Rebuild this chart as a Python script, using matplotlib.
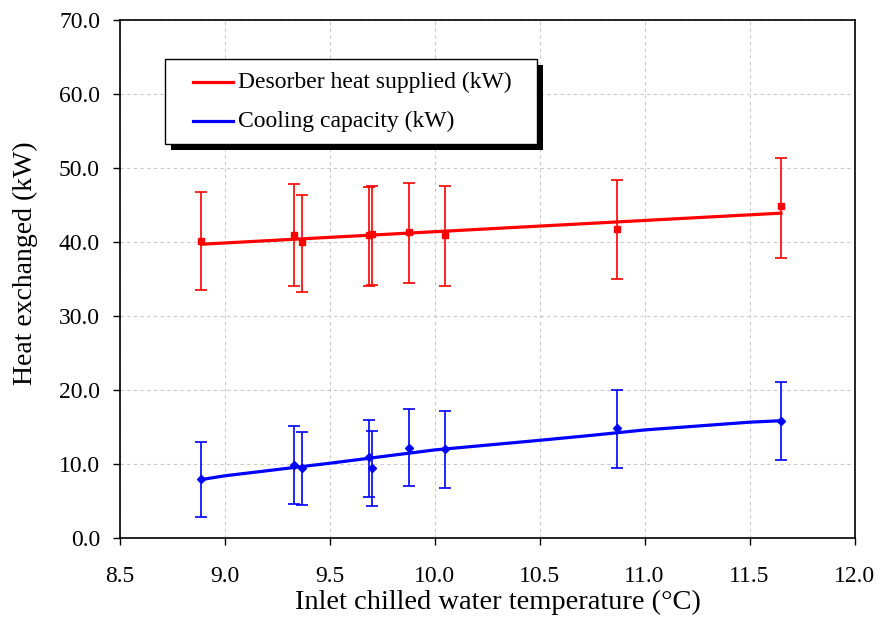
import matplotlib
matplotlib.use("Agg")
import matplotlib.pyplot as plt
from matplotlib.patches import Rectangle
from matplotlib.lines import Line2D

plt.rcParams['font.family'] = ['Liberation Serif', 'DejaVu Serif']

# ---- data ----
temp = [8.89, 9.33, 9.37, 9.69, 9.70, 9.88, 10.05, 10.87, 11.65]

des_heat = [40.1, 41.0, 40.0, 41.0, 41.1, 41.4, 41.0, 41.8, 44.8]
des_hi = [46.7, 47.8, 46.4, 47.4, 47.6, 48.0, 47.6, 48.4, 51.3]
des_lo = [33.5, 34.1, 33.3, 34.1, 34.2, 34.5, 34.1, 35.0, 37.9]

cool_cap = [8.0, 9.8, 9.5, 10.9, 9.5, 12.2, 12.0, 14.8, 15.8]
cool_hi = [13.0, 15.1, 14.3, 15.9, 14.5, 17.5, 17.1, 20.0, 21.1]
cool_lo = [2.9, 4.6, 4.4, 5.6, 4.3, 7.0, 6.7, 9.5, 10.5]

# trend lines as drawn
des_trend_x = [8.89, 11.65]
des_trend_y = [39.7, 43.9]
cool_trend_x = [8.89, 9.0, 9.5, 10.0, 10.5, 10.74, 11.0, 11.5, 11.65]
cool_trend_y = [7.9, 8.4, 10.1, 11.9, 13.2, 13.85, 14.6, 15.65, 15.85]

labels = ['Desorber heat supplied (kW)', 'Cooling capacity (kW)']
colors = ['#ff0000', '#0000ff']

xticks = [8.5, 9.0, 9.5, 10.0, 10.5, 11.0, 11.5, 12.0]
yticks = [0, 10, 20, 30, 40, 50, 60, 70]

W, H = 880, 619
fig = plt.figure(figsize=(8.8, 6.19), dpi=100)
ax = fig.add_axes([119.5 / W, 1 - 538 / H, (854.5 - 119.5) / W, (538 - 20) / H])

# error bars
ax.errorbar(temp, des_heat,
            yerr=[[m - l for m, l in zip(des_heat, des_lo)], [h - m for m, h in zip(des_heat, des_hi)]],
            fmt='s', color=colors[0], ms=4.5, elinewidth=1.2, capsize=4.5, capthick=1.2, zorder=3)
ax.errorbar(temp, cool_cap,
            yerr=[[m - l for m, l in zip(cool_cap, cool_lo)], [h - m for m, h in zip(cool_cap, cool_hi)]],
            fmt='D', color=colors[1], ms=4, elinewidth=1.2, capsize=4.5, capthick=1.2, zorder=3)

ax.plot(des_trend_x, des_trend_y, color=colors[0], lw=2.3, zorder=4)
ax.plot(cool_trend_x, cool_trend_y, color=colors[1], lw=2.3, zorder=4)

ax.set_xlim(8.5, 12.0)
ax.set_ylim(0, 70)
ax.set_xticks(xticks)
ax.set_xticklabels([f'{v:.1f}' for v in xticks])
ax.set_yticks(yticks)
ax.set_yticklabels([f'{v:.1f}' for v in yticks])
ax.tick_params(axis='y', direction='out', length=5, width=1, labelsize=17, pad=9)
ax.tick_params(axis='x', direction='out', length=5, width=1, labelsize=17, pad=15)
ax.grid(True, color='#c8c8c8', linestyle=(0, (3, 3)), linewidth=0.8)
ax.set_axisbelow(True)
for s in ax.spines.values():
    s.set_linewidth(1.2)

ax.set_xlabel('Inlet chilled water temperature (\u00b0C)', fontsize=20.5)
ax.xaxis.set_label_coords((498 - 119.5) / 735, (538 - 590) / 518)
ax.set_ylabel('Heat exchanged (kW)', fontsize=20)
ax.yaxis.set_label_coords((38 - 119.5) / 735, (538 - 263.5) / 518)

# legend box with black drop shadow (figure pixel coordinates, y from top)
bx0, by0, bx1, by1 = 165, 59, 537, 144
fig.add_artist(Rectangle((bx0 + 6, H - by1 - 6), bx1 - bx0, by1 - by0, transform=None,
                         facecolor='black', edgecolor='none', zorder=9))
fig.add_artist(Rectangle((bx0, H - by1), bx1 - bx0, by1 - by0, transform=None,
                         facecolor='white', edgecolor='black', linewidth=1.0, zorder=10))
row_y = [82, 121]
for lab, col, ry in zip(labels, colors, row_y):
    fig.add_artist(Line2D([193, 233], [H - ry, H - ry], transform=None,
                          color=col, lw=2.3, zorder=11))
    fig.text(238 / W, 1 - ry / H, lab, fontsize=17, va='center', ha='left', zorder=11)

fig.savefig('out.png', dpi=100)
